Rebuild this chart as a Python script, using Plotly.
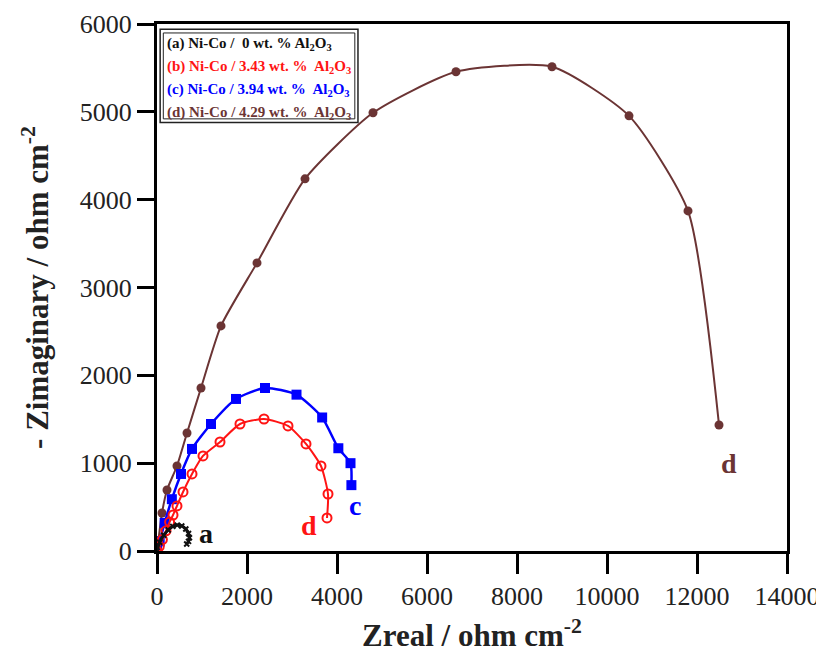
import plotly.graph_objects as go

# Series a: Ni-Co / 0 wt.% Al2O3
a_x = [0, 60, 150, 250, 350, 450, 550, 640, 700, 720, 700, 660]
a_y = [0, 100, 180, 240, 280, 295, 285, 250, 200, 150, 110, 80]
# Series b: Ni-Co / 3.43 wt.% Al2O3
b_x = [0, 50, 120, 200, 280, 356, 444, 578, 778, 1022, 1400, 1844, 2378, 2911, 3311, 3644, 3800, 3778]
b_y = [0, 50, 130, 230, 330, 410, 513, 672, 877, 1082, 1241, 1446, 1503, 1424, 1219, 968, 649, 376]
# Series c: Ni-Co / 3.94 wt.% Al2O3
c_x = [0, 60, 170, 330, 533, 778, 1200, 1756, 2400, 3100, 3670, 4030, 4300, 4320]
c_y = [0, 110, 320, 590, 877, 1162, 1446, 1731, 1856, 1780, 1520, 1170, 1000, 750]
# Series d: Ni-Co / 4.29 wt.% Al2O3
d_x = [0, 30, 111, 222, 444, 667, 978, 1422, 2222, 3289, 4800, 6644, 8778, 10489, 11800, 12489]
d_y = [0, 120, 433, 695, 968, 1344, 1856, 2563, 3280, 4237, 4989, 5456, 5513, 4954, 3872, 1435]

x_ticks = [0, 2000, 4000, 6000, 8000, 10000, 12000, 14000]
y_ticks = [0, 1000, 2000, 3000, 4000, 5000, 6000]

legend_labels = [
    "(a) Ni-Co /  0 wt. % Al<sub>2</sub>O<sub>3</sub>",
    "(b) Ni-Co / 3.43 wt. %  Al<sub>2</sub>O<sub>3</sub>",
    "(c) Ni-Co / 3.94 wt. %  Al<sub>2</sub>O<sub>3</sub>",
    "(d) Ni-Co / 4.29 wt. %  Al<sub>2</sub>O<sub>3</sub>",
]

BLACK = "#111111"
RED = "#ff1414"
BLUE = "#0000ff"
BROWN = "#6b3434"
SERIF = "Liberation Serif, Times New Roman, serif"

fig = go.Figure()
fig.add_trace(go.Scatter(x=d_x, y=d_y, mode="lines+markers",
                         line=dict(color=BROWN, width=2, shape="spline", smoothing=0.6),
                         marker=dict(symbol="circle", size=9, color=BROWN)))
fig.add_trace(go.Scatter(x=c_x, y=c_y, mode="lines+markers",
                         line=dict(color=BLUE, width=2.5, shape="spline", smoothing=0.6),
                         marker=dict(symbol="square", size=10, color=BLUE)))
fig.add_trace(go.Scatter(x=b_x, y=b_y, mode="lines+markers",
                         line=dict(color=RED, width=2, shape="spline", smoothing=0.6),
                         marker=dict(symbol="circle-open", size=9, color=RED, line=dict(width=2))))
fig.add_trace(go.Scatter(x=a_x, y=a_y, mode="lines+markers",
                         line=dict(color=BLACK, width=3, shape="spline", smoothing=0.6),
                         marker=dict(symbol="x-thin-open", size=5, color=BLACK, line=dict(width=2))))

# curve letters
for txt, x, y, col in [("a", 1080, 200, BLACK), ("d", 3380, 290, RED),
                       ("c", 4400, 520, BLUE), ("d", 12700, 1000, BROWN)]:
    fig.add_annotation(x=x, y=y, text="<b>" + txt + "</b>", showarrow=False,
                       font=dict(family=SERIF, size=28, color=col))

# legend box
cols = [BLACK, RED, BLUE, BROWN]
for i, (lab, col) in enumerate(zip(legend_labels, cols)):
    fig.add_annotation(xref="paper", yref="paper", x=0.012, y=0.982 - i * 0.0435,
                       xanchor="left", yanchor="top", text="<b>" + lab + "</b>",
                       showarrow=False, font=dict(family=SERIF, size=15, color=col))
fig.add_shape(type="rect", xref="paper", yref="paper", x0=0.005, x1=0.319, y0=0.813, y1=0.990,
              line=dict(color="#222", width=1.5), fillcolor="rgba(0,0,0,0)")
fig.add_shape(type="rect", xref="paper", yref="paper", x0=0.010, x1=0.314, y0=0.820, y1=0.983,
              line=dict(color="#222", width=1), fillcolor="rgba(0,0,0,0)")

# page body has an 8px margin, so the plot area is offset to land at the reference position
fig.update_layout(
    width=824, height=652,
    margin=dict(l=149, r=45, t=16, b=109),
    paper_bgcolor="white", plot_bgcolor="white",
    showlegend=False,
    font=dict(family=SERIF, color="#222"),
)
fig.update_xaxes(range=[0, 14000], tickvals=x_ticks, ticktext=[str(v) for v in x_ticks],
                 automargin=False,
                 showgrid=False, zeroline=False, showline=True, linecolor="black", linewidth=3,
                 mirror=True, ticks="outside", ticklen=20, tickwidth=3, tickcolor="black",
                 tickfont=dict(family=SERIF, size=26, color="#222"),
                 title=dict(text="<b>Zreal / ohm cm<sup>-2</sup></b>",
                            font=dict(family=SERIF, size=31, color="#222"), standoff=15))
fig.update_yaxes(range=[0, 6000], tickvals=y_ticks, ticktext=[str(v) for v in y_ticks],
                 automargin=False,
                 showgrid=False, zeroline=False, showline=True, linecolor="black", linewidth=3,
                 mirror=True, ticks="outside", ticklen=17, tickwidth=3, tickcolor="black",
                 tickfont=dict(family=SERIF, size=26, color="#222"),
                 title=dict(text="<b>- Zimaginary / ohm cm<sup>-2</sup></b>",
                            font=dict(family=SERIF, size=31, color="#222"), standoff=22))

fig.write_html("out.html")
